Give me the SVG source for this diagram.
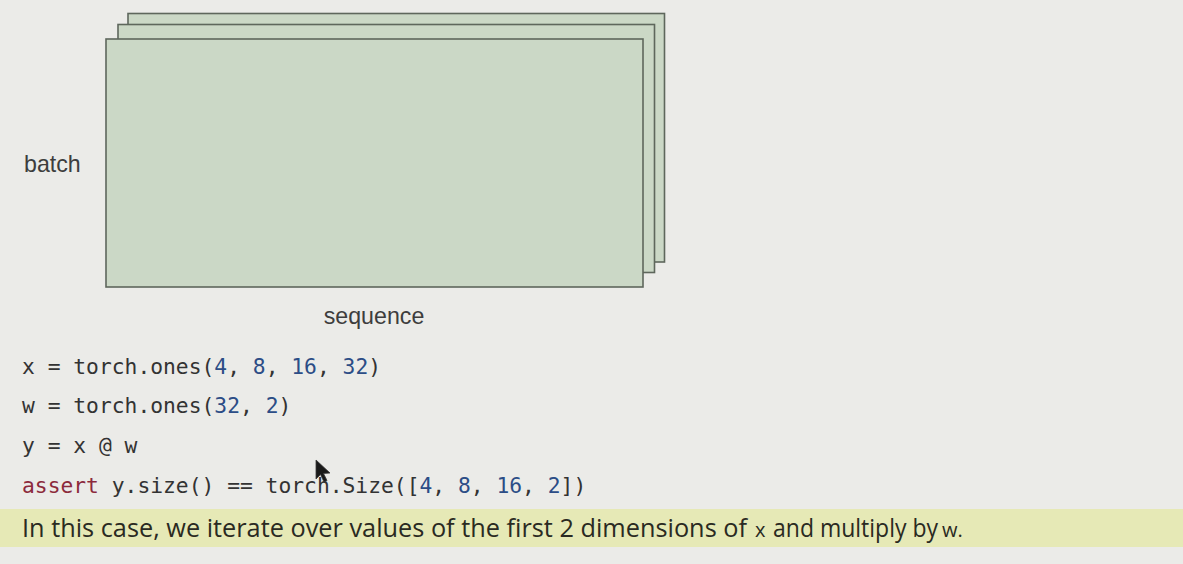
<svg xmlns="http://www.w3.org/2000/svg" width="1183" height="564" viewBox="0 0 1183 564">
<defs>
<style>
.sheet{fill:#cbd8c6;stroke:#5e675c;stroke-width:1.6}
.lbl{font-family:"Liberation Sans",Arial,sans-serif;font-size:23.2px;fill:#3d3d3d}
.code{font-family:"DejaVu Sans Mono",monospace;font-size:21.3px;fill:#333333;white-space:pre}
.num{fill:#2c4d86}
.kw{fill:#8c2a3c}
.note{font-family:"Open Sans","Noto Sans",sans-serif;font-size:25px;fill:#2a2a22}
.small{font-size:20px}
</style>
</defs>
<rect width="1183" height="564" fill="#ebebe8"/>
<g id="tensor">
<g id="sheet-back"><rect class="sheet" x="128" y="13.5" width="536.5" height="248.5"/></g>
<g id="sheet-middle"><rect class="sheet" x="118" y="24.5" width="536.5" height="248"/></g>
<g id="sheet-front"><rect class="sheet" x="106" y="39" width="537" height="248"/></g>
</g>
<g id="connectors"/>
<g id="label-batch"><text class="lbl" x="24" y="172">batch</text></g>
<g id="label-sequence"><text class="lbl" x="374" y="324" text-anchor="middle">sequence</text></g>
<g id="code">
<text class="code" x="22" y="374" xml:space="preserve">x = torch.ones(<tspan class="num">4</tspan>, <tspan class="num">8</tspan>, <tspan class="num">16</tspan>, <tspan class="num">32</tspan>)</text>
<text class="code" x="22" y="413" xml:space="preserve">w = torch.ones(<tspan class="num">32</tspan>, <tspan class="num">2</tspan>)</text>
<text class="code" x="22" y="453" xml:space="preserve">y = x @ w</text>
<text class="code" x="22" y="493" xml:space="preserve"><tspan class="kw">assert</tspan> y.size() == torch.Size([<tspan class="num">4</tspan>, <tspan class="num">8</tspan>, <tspan class="num">16</tspan>, <tspan class="num">2</tspan>])</text>
</g>
<g id="note">
<rect x="0" y="509" width="1183" height="38" fill="#e6e9b6"/>
<text class="note" x="22" y="537" textLength="725" lengthAdjust="spacingAndGlyphs">In this case, we iterate over values of the first 2 dimensions of</text>
<text class="note small" x="755" y="537">x</text>
<text class="note" transform="translate(773,537) scale(0.92,1)">and multiply by</text>
<text class="note small" x="942" y="537">w.</text>
</g>
<g id="cursor">
<polygon points="316,460 316,479 320.5,474.5 324,482 327,480.5 323.5,473.5 330,473" fill="#1a1a1a" stroke="#3a3a3a" stroke-width="0.8" stroke-linejoin="round"/>
</g>
</svg>
